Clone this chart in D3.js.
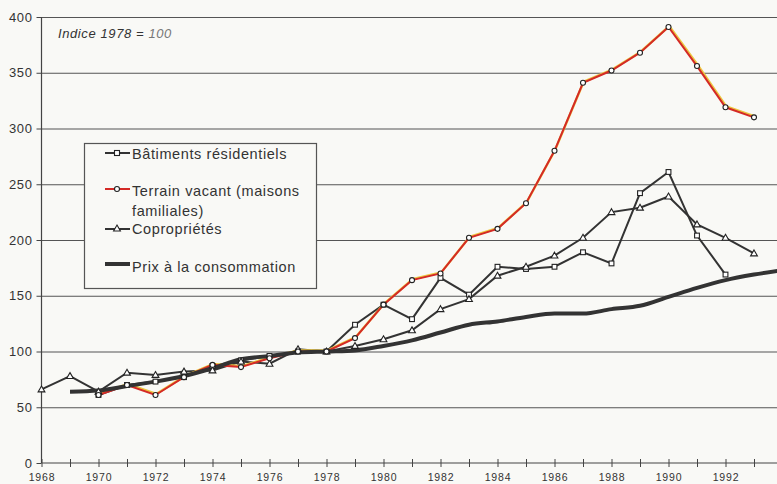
<!DOCTYPE html>
<html>
<head>
<meta charset="utf-8">
<script src="https://cdn.jsdelivr.net/npm/d3@7"></script>
<style>
  html, body { margin: 0; padding: 0; background: #f9f9f6; }
  svg { display: block; }
  text { font-family: "Liberation Sans", Arial, sans-serif; fill: #333; }
</style>
</head>
<body>
<svg id="chart" width="777" height="484"></svg>
<script>
// ---- Data ----
const years = d3.range(1968, 1995);
const yTicks = [0, 50, 100, 150, 200, 250, 300, 350, 400];
const xLabelYears = [1968, 1970, 1972, 1974, 1976, 1978, 1980, 1982, 1984, 1986, 1988, 1990, 1992];

const batimentsYears = d3.range(1970, 1993);
const batiments = [61, 70, 73, 77, 87, 92, 96, 100, 100, 124, 142, 129, 166, 151, 176, 174, 176, 189, 179, 242, 261, 204, 169];

const terrainYears = d3.range(1970, 1994);
const terrain = [61, 70, 61, 77, 88, 86, 94, 100, 100, 112, 142, 164, 170, 202, 210, 233, 280, 341, 352, 368, 391, 356, 319, 310];

const coproYears = d3.range(1968, 1994);
const copro = [66, 78, 64, 81, 79, 82, 83, 91, 89, 102, 100, 105, 111, 119, 138, 147, 168, 176, 186, 202, 225, 229, 239, 214, 202, 188];

const prixYears = d3.range(1969, 1995);
const prix = [64, 65, 69, 73, 78, 85, 93, 96, 99, 100, 101, 105, 110, 117, 124, 127, 131, 134, 134, 138, 141, 149, 157, 164, 169, 173];

const legendLabels = [["Bâtiments résidentiels"], ["Terrain vacant (maisons", "familiales)"], ["Copropriétés"], ["Prix à la consommation"]];

// ---- Layout ----
const svg = d3.select("#chart");
const W = 777;
const x = d3.scaleLinear().domain([1968, 1994]).range([41.5, 782.5]);
const y = d3.scaleLinear().domain([0, 400]).range([463, 17]);

// gridlines
svg.append("g")
  .attr("transform", "translate(41.5,0)")
  .call(d3.axisLeft(y).tickValues(yTicks.filter(d => d > 0)).tickSize(-(W - 41.5)).tickFormat(""))
  .call(g => g.select(".domain").remove())
  .call(g => g.selectAll("line").attr("stroke", "#555").attr("stroke-width", 1.1));

// y axis
svg.append("g")
  .attr("transform", "translate(41.5,0)")
  .call(d3.axisLeft(y).tickValues(yTicks).tickSize(5).tickPadding(4))
  .call(g => g.select(".domain").attr("stroke", "#444").attr("stroke-width", 1.2).attr("d", `M0,${y(0)}V${y(400)}`))
  .call(g => g.selectAll("line").attr("stroke", "#444"))
  .call(g => g.selectAll("text").attr("font-size", 13).style("letter-spacing", "0.6px").attr("fill", "#3a3a3a"));

// x axis
svg.append("g")
  .attr("transform", `translate(0,${y(0)})`)
  .call(d3.axisBottom(x).tickValues(years).tickSize(4).tickPadding(7)
        .tickFormat(d => xLabelYears.includes(d) ? String(d) : ""))
  .call(g => g.select(".domain").attr("stroke", "#444").attr("stroke-width", 1.2).attr("d", `M41.5,0H${W}`))
  .call(g => g.selectAll("line").attr("stroke", "#444").attr("y1", -4))
  .call(g => g.selectAll("text").attr("font-size", 10.5).style("letter-spacing", "0.8px").attr("fill", "#3a3a3a"));

// annotation
const ann = svg.append("text").attr("x", 58).attr("y", 38).attr("font-size", 13).attr("font-style", "italic").style("letter-spacing", "0.6px");
ann.append("tspan").text("Indice 1978 = ");
ann.append("tspan").attr("fill", "#777").text("100");

// ---- Lines ----
const lineGen = (xs, vs, curve) => d3.line().x((d, i) => x(xs[i])).y(d => y(d)).curve(curve || d3.curveLinear)(vs);

svg.append("path").attr("d", lineGen(coproYears, copro)).attr("fill", "none").attr("stroke", "#333").attr("stroke-width", 2);
svg.append("path").attr("d", lineGen(batimentsYears, batiments)).attr("fill", "none").attr("stroke", "#333").attr("stroke-width", 2);
svg.append("path").attr("d", lineGen(terrainYears, terrain)).attr("fill", "none").attr("stroke", "#ecc640").attr("stroke-width", 2.4).attr("transform", "translate(0.7,-1)");
svg.append("path").attr("d", lineGen(terrainYears, terrain)).attr("fill", "none").attr("stroke", "#d42a26").attr("stroke-width", 2);
svg.append("path").attr("d", lineGen(prixYears, prix, d3.curveMonotoneX)).attr("fill", "none").attr("stroke", "#333").attr("stroke-width", 4).attr("stroke-linejoin", "round");

// ---- Markers ----
const mk = { fill: "#fff", stroke: "#222", sw: 1.1 };
svg.append("g").selectAll("rect").data(batiments).join("rect")
  .attr("x", (d, i) => x(batimentsYears[i]) - 2.4).attr("y", d => y(d) - 2.4)
  .attr("width", 4.8).attr("height", 4.8)
  .attr("fill", mk.fill).attr("stroke", mk.stroke).attr("stroke-width", mk.sw);
const tri = d3.symbol().type(d3.symbolTriangle).size(20);
svg.append("g").selectAll("path").data(copro).join("path")
  .attr("d", tri).attr("transform", (d, i) => `translate(${x(coproYears[i])},${y(d) + 0.5})`)
  .attr("fill", mk.fill).attr("stroke", mk.stroke).attr("stroke-width", mk.sw);
svg.append("g").selectAll("circle").data(terrain).join("circle")
  .attr("cx", (d, i) => x(terrainYears[i])).attr("cy", d => y(d)).attr("r", 2.5)
  .attr("fill", mk.fill).attr("stroke", mk.stroke).attr("stroke-width", mk.sw);

// ---- Legend ----
const lg = svg.append("g");
lg.append("rect").attr("x", 84.5).attr("y", 143.5).attr("width", 232).attr("height", 145)
  .attr("fill", "#f9f9f6").attr("stroke", "#555").attr("stroke-width", 1.2);
const rows = [
  { ly: 153, ty: [159] },
  { ly: 189, ty: [196, 216] },
  { ly: 229, ty: [234] },
  { ly: 264, ty: [272] }
];
// sample 0: square
lg.append("line").attr("x1", 105).attr("x2", 130).attr("y1", rows[0].ly).attr("y2", rows[0].ly).attr("stroke", "#333").attr("stroke-width", 2);
lg.append("rect").attr("x", 114.5).attr("y", rows[0].ly - 2.5).attr("width", 5).attr("height", 5).attr("fill", "#fff").attr("stroke", "#222").attr("stroke-width", 1.1);
// sample 1: red circle
lg.append("line").attr("x1", 105).attr("x2", 130).attr("y1", rows[1].ly).attr("y2", rows[1].ly).attr("stroke", "#d42a26").attr("stroke-width", 2);
lg.append("circle").attr("cx", 117).attr("cy", rows[1].ly).attr("r", 2.5).attr("fill", "#fff").attr("stroke", "#222").attr("stroke-width", 1.1);
// sample 2: triangle
lg.append("line").attr("x1", 105).attr("x2", 130).attr("y1", rows[2].ly).attr("y2", rows[2].ly).attr("stroke", "#333").attr("stroke-width", 2);
lg.append("path").attr("d", tri).attr("transform", `translate(117,${rows[2].ly})`).attr("fill", "#fff").attr("stroke", "#222").attr("stroke-width", 1.1);
// sample 3: thick
lg.append("line").attr("x1", 105).attr("x2", 130).attr("y1", rows[3].ly).attr("y2", rows[3].ly).attr("stroke", "#333").attr("stroke-width", 4);

rows.forEach((r, i) => {
  legendLabels[i].forEach((t, j) => {
    lg.append("text").attr("x", 132).attr("y", r.ty[j]).attr("font-size", 14.5).style("letter-spacing", "0.6px").text(t);
  });
});
</script>
</body>
</html>
